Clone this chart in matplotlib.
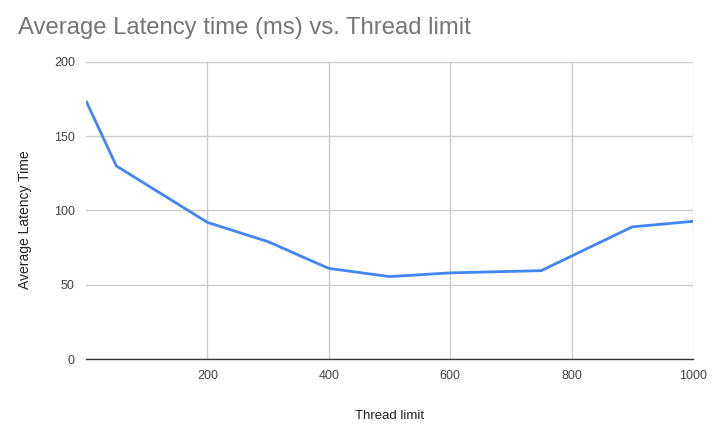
import matplotlib
matplotlib.use("Agg")
import matplotlib.pyplot as plt

plt.rcParams['font.family'] = ['Liberation Sans', 'DejaVu Sans']

threads = [1, 50, 200, 300, 400, 500, 600, 750, 900, 1000]
latency = [173, 130, 92, 79, 61, 55.5, 58, 59.5, 89, 92.7]
xticks = [200, 400, 600, 800, 1000]
yticks = [0, 50, 100, 150, 200]

fig = plt.figure(figsize=(7.12, 4.36), dpi=100)
ax = fig.add_axes([86 / 712, 77 / 436, 607 / 712, 297 / 436])

ax.plot(threads, latency, color="#4285f4", lw=2, solid_joinstyle="round", zorder=3)

ax.set_xlim(0, 1000)
ax.set_ylim(0, 200)
ax.set_xticks(xticks)
ax.set_yticks(yticks)
ax.grid(True, color="#cccccc", lw=1)
ax.tick_params(length=0, labelsize=9, labelcolor="#444444", pad=8)
for s in ["left", "right", "top"]:
    ax.spines[s].set_visible(False)
ax.spines["bottom"].set_color("#333333")
ax.spines["bottom"].set_linewidth(1)
ax.spines["bottom"].set_zorder(4)

ax.set_xlabel("Thread limit", fontsize=9.5, color="#222222")
ax.xaxis.set_label_coords(0.5, -(410 - 359) / 297)
ax.set_ylabel("Average Latency Time", fontsize=10, color="#222222")
ax.yaxis.set_label_coords(-(86 - 32) / 607, 0.47)
fig.text(18 / 712, 1 - 28 / 436, "Average Latency time (ms) vs. Thread limit",
         fontsize=17.2, color="#757575", va="center", ha="left")

fig.savefig("out.png", dpi=100)
